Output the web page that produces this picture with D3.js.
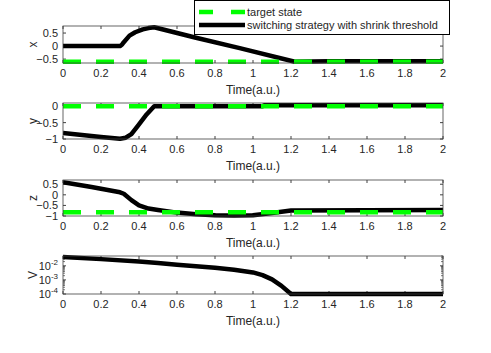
<!DOCTYPE html>
<html>
<head>
<meta charset="utf-8">
<script src="https://cdn.jsdelivr.net/npm/d3@7"></script>
<style>
  body { margin: 0; background: #fff; }
  svg text { font-family: "Liberation Sans", Arial, sans-serif; fill: #262626; }
</style>
</head>
<body>
<div id="chart"></div>
<script>
// data
var timeTicks = [0, 0.2, 0.4, 0.6, 0.8, 1, 1.2, 1.4, 1.6, 1.8, 2];

var tX = [0, 0.3, 0.31, 0.32, 0.35, 0.38, 0.42, 0.45, 0.48, 0.7, 0.93, 1.22, 1.4, 2];
var xVals = [0, 0, 0.05, 0.15, 0.4, 0.53, 0.64, 0.69, 0.72, 0.32, -0.08, -0.6, -0.58, -0.58];
var xTarget = -0.6;

var tY = [0, 0.1, 0.2, 0.3, 0.33, 0.36, 0.4, 0.44, 0.48, 1.05, 1.06, 2];
var yVals = [-0.82, -0.88, -0.94, -0.99, -0.96, -0.85, -0.55, -0.25, 0, 0, 0.03, 0.03];
var yTarget = 0;

var tZ = [0, 0.15, 0.3, 0.32, 0.36, 0.4, 0.45, 0.5, 0.6, 0.7, 0.8, 0.9, 1.0, 1.1, 1.2, 2];
var zVals = [0.6, 0.37, 0.12, 0.05, -0.25, -0.5, -0.65, -0.72, -0.84, -0.92, -0.97, -0.98, -0.96, -0.86, -0.74, -0.72];
var zTarget = -0.82;

var tV = [0, 0.2, 0.4, 0.5, 0.6, 0.7, 0.8, 0.9, 1.0, 1.05, 1.1, 1.15, 1.2, 2];
var vVals = [0.042, 0.03, 0.02, 0.016, 0.012, 0.0095, 0.0073, 0.0052, 0.0034, 0.0022, 0.0011, 0.00038, 0.0001, 0.0001];

var legendLabels = ["target state", "switching strategy with shrink threshold"];

var width = 491, height = 353;
var left = 63, right = 443;

var svg = d3.select("#chart").append("svg")
    .attr("width", width).attr("height", height);

var xScale = d3.scaleLinear().domain([0, 2]).range([left, right]);

var panels = [
  { name: "x", top: 26, bottom: 63, domain: [-0.65, 0.77], ticks: [-0.5, 0, 0.5], t: tX, v: xVals, target: xTarget },
  { name: "y", top: 103, bottom: 139, domain: [-1, 0.1], ticks: [-1, -0.5, 0], t: tY, v: yVals, target: yTarget },
  { name: "z", top: 180, bottom: 216, domain: [-1, 0.7], ticks: [-1, -0.5, 0, 0.5], t: tZ, v: zVals, target: zTarget },
  { name: "V", top: 256, bottom: 294, domain: [1e-4, 0.05], ticks: [1e-4, 1e-3, 1e-2], t: tV, v: vVals, log: true }
];

var green = "#00ff00";
var axisCol = "#404040";

panels.forEach(function(p) {
  var yScale = (p.log ? d3.scaleLog() : d3.scaleLinear()).domain(p.domain).range([p.bottom, p.top]);
  var g = svg.append("g");

  var clipId = "clip-" + p.name;
  g.append("clipPath").attr("id", clipId).append("rect")
    .attr("x", left).attr("y", p.top - 3).attr("width", right - left).attr("height", p.bottom - p.top + 6);

  // ticks (inward, all four sides)
  var tl = 3;
  timeTicks.forEach(function(t) {
    g.append("line").attr("x1", xScale(t)).attr("x2", xScale(t))
      .attr("y1", p.bottom).attr("y2", p.bottom - tl).attr("stroke", axisCol);
    g.append("line").attr("x1", xScale(t)).attr("x2", xScale(t))
      .attr("y1", p.top).attr("y2", p.top + tl).attr("stroke", axisCol);
    g.append("text").attr("x", xScale(t)).attr("y", p.bottom + 14)
      .attr("text-anchor", "middle").attr("font-size", 11).text(d3.format("")(t));
  });

  if (p.log) {
    var minor = [];
    [1e-4, 1e-3, 1e-2].forEach(function(d) {
      for (var k = 2; k <= 9; k++) if (d * k <= p.domain[1]) minor.push(d * k);
    });
    minor.forEach(function(m) {
      g.append("line").attr("x1", left).attr("x2", left + 2).attr("y1", yScale(m)).attr("y2", yScale(m)).attr("stroke", axisCol).attr("stroke-width", 0.7);
      g.append("line").attr("x1", right).attr("x2", right - 2).attr("y1", yScale(m)).attr("y2", yScale(m)).attr("stroke", axisCol).attr("stroke-width", 0.7);
    });
  }
  p.ticks.forEach(function(v) {
    g.append("line").attr("x1", left).attr("x2", left + tl).attr("y1", yScale(v)).attr("y2", yScale(v)).attr("stroke", axisCol);
    g.append("line").attr("x1", right).attr("x2", right - tl).attr("y1", yScale(v)).attr("y2", yScale(v)).attr("stroke", axisCol);
    var txt = g.append("text").attr("x", left - 5).attr("y", yScale(v) + 4)
      .attr("text-anchor", "end").attr("font-size", 11);
    if (p.log) {
      var e = Math.round(Math.log10(v));
      txt.text("10");
      txt.append("tspan").attr("dy", -5).attr("font-size", 8).text(e);
    } else {
      txt.text(d3.format("")(v));
    }
  });

  // series
  var line = d3.line()
    .x(function(d) { return xScale(d[0]); })
    .y(function(d) { return yScale(d[1]); });

  g.append("path")
    .datum(p.t.map(function(t, i) { return [t, p.v[i]]; }))
    .attr("d", line).attr("fill", "none").attr("stroke", "#000")
    .attr("stroke-width", 4.5).attr("stroke-linejoin", "round")
    .attr("clip-path", "url(#" + clipId + ")");

  if (p.target !== undefined) {
    g.append("line").attr("x1", xScale(0)).attr("x2", xScale(2))
      .attr("y1", yScale(p.target)).attr("y2", yScale(p.target))
      .attr("stroke", green).attr("stroke-width", 4.5)
      .attr("stroke-dasharray", "18,15");
  }

  // box
  g.append("rect").attr("x", left).attr("y", p.top)
    .attr("width", right - left).attr("height", p.bottom - p.top)
    .attr("fill", "none").attr("stroke", axisCol).attr("stroke-width", 0.8);

  // labels
  g.append("text").attr("x", (left + right) / 2).attr("y", p.bottom + 31)
    .attr("text-anchor", "middle").attr("font-size", 12).text("Time(a.u.)");
  g.append("text").attr("transform", "translate(37," + ((p.top + p.bottom) / 2) + ") rotate(-90)")
    .attr("text-anchor", "middle").attr("font-size", 12).text(p.name);
});

// legend
var lg = svg.append("g");
lg.append("rect").attr("x", 194.5).attr("y", 0.5).attr("width", 255).attr("height", 34)
  .attr("fill", "#fff").attr("stroke", "#000").attr("stroke-width", 1);
lg.append("line").attr("x1", 199).attr("x2", 245).attr("y1", 12).attr("y2", 12)
  .attr("stroke", green).attr("stroke-width", 4.5).attr("stroke-dasharray", "14,18");
lg.append("line").attr("x1", 199).attr("x2", 245).attr("y1", 25).attr("y2", 25)
  .attr("stroke", "#000").attr("stroke-width", 4.5);
legendLabels.forEach(function(s, i) {
  lg.append("text").attr("x", 247).attr("y", 16 + i * 13).attr("font-size", 11).attr("fill", "#000").text(s);
});
</script>
</body>
</html>
